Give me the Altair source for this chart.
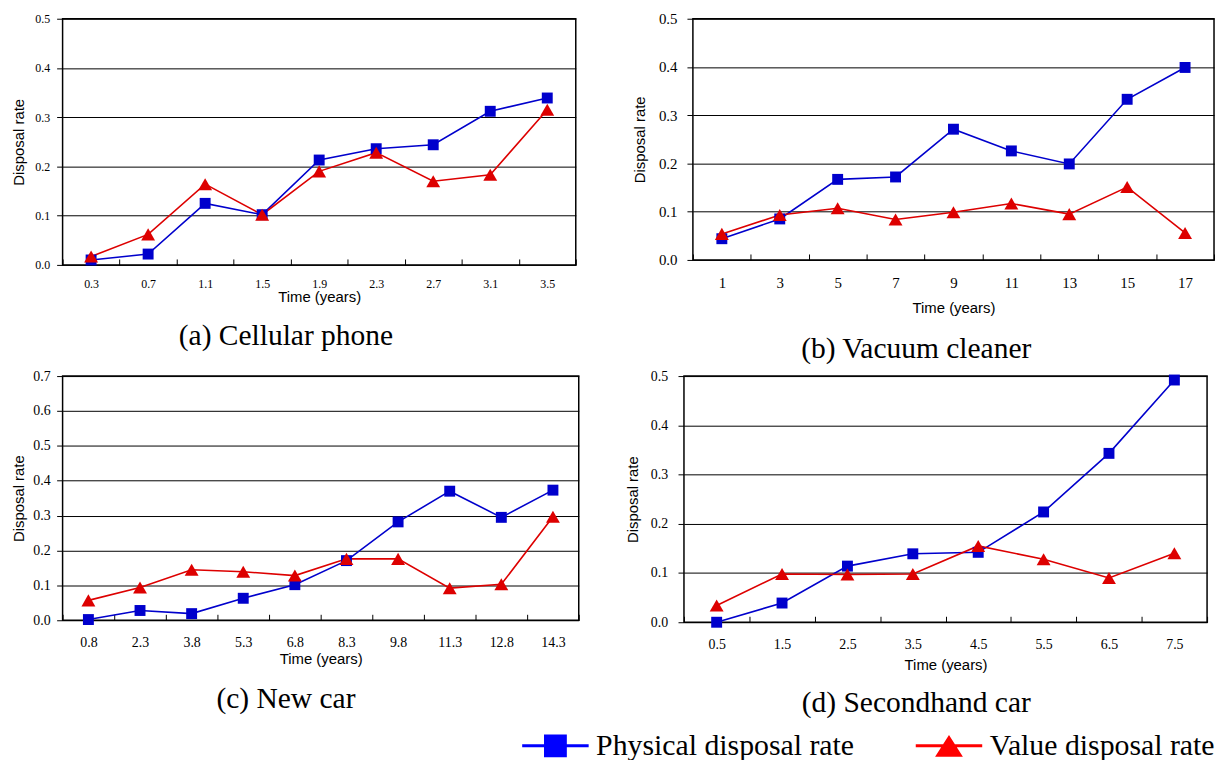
import altair as alt
import pandas as pd

# ---------------- data ----------------
SERIES = ["Physical disposal rate", "Value disposal rate"]

a_time = ["0.3", "0.7", "1.1", "1.5", "1.9", "2.3", "2.7", "3.1", "3.5"]
a_phys = [0.010, 0.022, 0.125, 0.102, 0.213, 0.236, 0.244, 0.312, 0.339]
a_val = [0.017, 0.062, 0.164, 0.102, 0.190, 0.228, 0.170, 0.183, 0.315]

b_time = ["1", "3", "5", "7", "9", "11", "13", "15", "17"]
b_phys = [0.044, 0.085, 0.167, 0.172, 0.271, 0.226, 0.199, 0.333, 0.399]
b_val = [0.054, 0.093, 0.107, 0.084, 0.099, 0.117, 0.095, 0.151, 0.056]

c_time = ["0.8", "2.3", "3.8", "5.3", "6.8", "8.3", "9.8", "11.3", "12.8", "14.3"]
c_phys = [0.002, 0.028, 0.019, 0.063, 0.102, 0.171, 0.282, 0.370, 0.295, 0.373]
c_val = [0.057, 0.094, 0.145, 0.139, 0.128, 0.176, 0.176, 0.092, 0.103, 0.297]

d_time = ["0.5", "1.5", "2.5", "3.5", "4.5", "5.5", "6.5", "7.5"]
d_phys = [0.000, 0.039, 0.114, 0.139, 0.142, 0.224, 0.343, 0.492]
d_val = [0.034, 0.098, 0.097, 0.098, 0.155, 0.128, 0.090, 0.140]

captions = ["(a) Cellular phone", "(b) Vacuum cleaner", "(c) New car", "(d) Secondhand car"]

# ---------------- style ----------------
SERIF = "Liberation Serif"
SANS = "Liberation Sans"
BLUE = "#0000CC"
RED = "#DD0000"

SQ_PATH = "M-2.79,-0.125H2.79V0.125H-2.79Z M-0.958,-0.958H0.958V0.958H-0.958Z"
TRI_PATH = "M-2.79,-0.125H2.79V0.125H-2.79Z M0,-0.917L1.167,0.917H-1.167Z"


def panel(times, phys, val, ymax, w, h, fs, ylp, ytx, xlp, xty, caption, cdx, coff, legend=False):
    n = len(times)
    df = pd.DataFrame({
        "time": times + times,
        "rate": phys + val,
        "series": [SERIES[0]] * n + [SERIES[1]] * n,
    })
    yvals = [round(i * 0.1, 1) for i in range(int(round(ymax * 10)) + 1)]
    x = alt.X(
        "time:N", sort=times,
        scale=alt.Scale(type="band", paddingInner=0, paddingOuter=0),
        axis=alt.Axis(
            title="Time (years)", labelAngle=0, tickBand="extent", offset=-6, tickSize=6,
            tickColor="#000", domain=False, grid=False, labelFont=SERIF, labelFontSize=fs,
            labelColor="#000", labelPadding=xlp, labelBaseline="middle",
            titleFont=SANS, titleFontSize=15, titleFontWeight="normal", titleColor="#000",
            titleY=xty + 6, titleBaseline="middle",
        ),
    )
    y = alt.Y(
        "rate:Q",
        scale=alt.Scale(domain=[0, ymax], nice=False, zero=True),
        axis=alt.Axis(
            title="Disposal rate", values=yvals, format=".1f", tickSize=6, tickColor="#000",
            domain=False, grid=True, gridColor="#000", gridWidth=1, labelFont=SERIF,
            labelFontSize=fs, labelColor="#000", labelPadding=ylp,
            titleFont=SANS, titleFontSize=15, titleFontWeight="normal", titleColor="#000",
            titleX=ytx, titleY=h / 2, titleBaseline="middle",
        ),
    )
    base = alt.Chart(df).encode(x=x, y=y)
    p = base.transform_filter(alt.datum.series == SERIES[0])
    v = base.transform_filter(alt.datum.series == SERIES[1])
    layers = [
        p.mark_line(color=BLUE, strokeWidth=1.6),
        v.mark_line(color=RED, strokeWidth=1.6),
        p.mark_point(shape="square", filled=True, size=121, color=BLUE, opacity=1),
        v.mark_point(shape="triangle-up", filled=True, size=196, color=RED, opacity=1),
    ]
    if legend:
        leg = alt.Legend(
            orient="none", legendX=481.5, legendY=717.5, direction="horizontal", title=None,
            labelFont=SERIF, labelFontSize=30, labelColor="#000", labelOffset=26,
            symbolSize=576, symbolStrokeWidth=0, symbolOpacity=1, columnPadding=61.5,
            padding=0, rowPadding=0, labelLimit=400,
        )
        ldf = pd.DataFrame({"series": SERIES})
        layers.append(
            alt.Chart(ldf).transform_filter("false").mark_point(filled=True, opacity=1, size=576).encode(
                shape=alt.Shape("series:N", scale=alt.Scale(domain=SERIES, range=[SQ_PATH, TRI_PATH]), legend=leg),
                color=alt.Color("series:N", scale=alt.Scale(domain=SERIES, range=["#0000FF", "#FF0000"]), legend=leg),
            )
        )
    return alt.layer(*layers).properties(
        width=w, height=h,
        title=alt.TitleParams(
            text=caption, orient="bottom", anchor="middle", frame="group", font=SERIF,
            fontSize=29.7, fontWeight="normal", color="#000", baseline="middle",
            offset=coff, dx=cdx,
        ),
    )


pa = panel(a_time, a_phys, a_val, 0.5, 517, 248, 12, 7, -44, 18.5, 31.5, captions[0], -33.5, 32)
pb = panel(b_time, b_phys, b_val, 0.5, 525, 243, 15, 10, -53.5, 23, 48, captions[1], -37.5, 33.5)
pc = panel(c_time, c_phys, c_val, 0.7, 520, 246, 14, 6.5, -44.5, 22, 39, captions[2], -35, 32.5)
pd_ = panel(d_time, d_phys, d_val, 0.5, 527, 248, 14, 10.5, -51.5, 22, 43, captions[3], -29.5, 30.5, legend=True)

row1 = alt.hconcat(pa, pb, spacing=118, bounds="flush")
row2 = alt.hconcat(pc, pd_, spacing=106, bounds="flush")

chart = alt.vconcat(row1, row2, spacing=360, bounds="flush").properties(
    padding={"left": 2, "top": 0, "right": 0, "bottom": 0},
    background="#ffffff",
).configure_view(stroke="#000", strokeWidth=1.5)

chart.save("out.html", embed_options={"renderer": "svg", "actions": False})
